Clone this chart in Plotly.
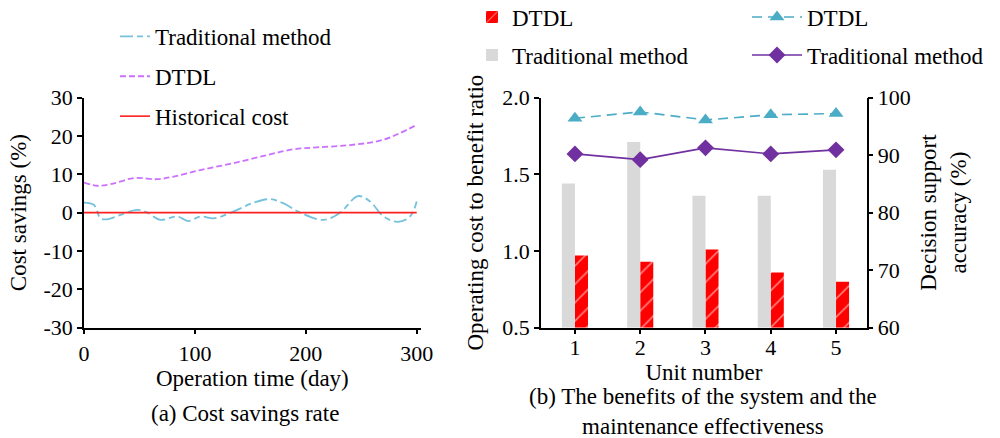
import plotly.graph_objects as go

# ---------- data: (a) cost savings rate ----------
trad_days = [0, 9, 15, 22, 33, 48, 57, 69, 84, 94, 105, 117, 135, 153, 168, 180, 195, 216, 231, 247, 258, 270, 283, 294, 300]
trad_vals = [2.6, 2.0, -1.5, -1.7, -0.6, 0.7, 0.0, -1.9, -1.0, -2.2, -1.0, -1.5, 0.3, 2.6, 3.5, 2.4, 0.0, -1.9, 0.0, 4.3, 2.9, -1.0, -2.4, -1.0, 2.9]
dtdl_days = [0, 12, 24, 45, 66, 81, 105, 135, 165, 189, 210, 240, 270, 300]
dtdl_vals = [7.8, 7.0, 7.4, 9.0, 8.7, 9.4, 11.1, 12.9, 15.0, 16.5, 17.0, 17.6, 19.0, 22.9]
hist_days = [0, 300]
hist_vals = [0, 0]
y_a_ticks = [-30, -20, -10, 0, 10, 20, 30]
y_a_labels = ["-30", "-20", "-10", "0", "10", "20", "30"]
x_a_ticks = [0, 100, 200, 300]

# ---------- data: (b) benefits ----------
units = [1, 2, 3, 4, 5]
ratio_dtdl = [0.97, 0.93, 1.01, 0.86, 0.80]
ratio_trad = [1.44, 1.71, 1.36, 1.36, 1.53]
acc_dtdl = [96.4, 97.5, 96.1, 97.0, 97.2]
acc_trad = [90.2, 89.2, 91.25, 90.2, 90.9]
ratio_ticks = [0.5, 1.0, 1.5, 2.0]
acc_ticks = [60, 70, 80, 90, 100]

FONT = "Liberation Serif"
FS = 23      # titles / legends / captions
TFS = 22     # tick labels

fig = go.Figure()

# (a)
fig.add_trace(go.Scatter(x=trad_days, y=trad_vals, mode="lines", name="Traditional method",
                         line=dict(color="#74C2DC", width=1.8, dash="13px,4px,6px,4px", shape="spline"),
                         xaxis="x", yaxis="y", legend="legend", legendgroup="a1"))
fig.add_trace(go.Scatter(x=dtdl_days, y=dtdl_vals, mode="lines", name="DTDL",
                         line=dict(color="#CC70FF", width=1.8, dash="6px,3px", shape="spline"),
                         xaxis="x", yaxis="y", legend="legend", legendgroup="a2"))
fig.add_trace(go.Scatter(x=hist_days, y=hist_vals, mode="lines", name="Historical cost",
                         line=dict(color="#FF2020", width=1.6),
                         xaxis="x", yaxis="y", legend="legend", legendgroup="a3"))

# (b) bars
fig.add_trace(go.Bar(x=units, y=[v - 0.5 for v in ratio_dtdl], base=0.5, name="DTDL",
                     width=0.2, offset=0.0,
                     marker=dict(color="#FF0000", line=dict(width=0),
                                 pattern=dict(shape="/", fgcolor="#FFFFFF", bgcolor="#FF0000", size=13, solidity=0.12)),
                     xaxis="x2", yaxis="y2", legend="legend2", legendgroup="b1",
                     hovertext=[str(v) for v in ratio_dtdl]))
fig.add_trace(go.Bar(x=units, y=[v - 0.5 for v in ratio_trad], base=0.5, name="Traditional method",
                     width=0.2, offset=-0.2,
                     marker=dict(color="#D9D9D9", line=dict(width=0)),
                     xaxis="x2", yaxis="y2", legend="legend2", legendgroup="b2",
                     hovertext=[str(v) for v in ratio_trad]))
# (b) lines
fig.add_trace(go.Scatter(x=units, y=acc_dtdl, mode="lines+markers", name="DTDL",
                         line=dict(color="#4BACC6", width=1.6, dash="10px,6px"),
                         marker=dict(symbol="triangle-up", size=13, color="#4BACC6"),
                         xaxis="x2", yaxis="y3", legend="legend3", legendgroup="c1"))
fig.add_trace(go.Scatter(x=units, y=acc_trad, mode="lines+markers", name="Traditional method",
                         line=dict(color="#7030A0", width=1.6),
                         marker=dict(symbol="diamond", size=13, color="#7030A0"),
                         xaxis="x2", yaxis="y3", legend="legend3", legendgroup="c2"))

ax_common = dict(showgrid=False, zeroline=False, showline=True, linecolor="black", linewidth=1.5,
                 ticks="outside", ticklen=5, tickcolor="black", tickwidth=1.5, automargin=False,
                 tickfont=dict(family=FONT, size=TFS, color="black"))
ydom = [1 - 327.7 / 438, 1 - 97.5 / 438]

legend_common = dict(font=dict(family=FONT, size=FS, color="black"), bgcolor="rgba(0,0,0,0)",
                     orientation="v", xanchor="left", yanchor="top",
                     itemclick=False, itemdoubleclick=False)

fig.update_layout(
    width=1000, height=438, margin=dict(l=0, r=0, t=0, b=0, autoexpand=False),
    paper_bgcolor="white", plot_bgcolor="white",
    font=dict(family=FONT, size=FS, color="black"),
    barmode="overlay",
    xaxis=dict(domain=[0.084, 0.4207], range=[0, 303.6], tickvals=x_a_ticks, anchor="y",
               title=dict(text="Operation time (day)", font=dict(family=FONT, size=FS), standoff=4), **ax_common),
    yaxis=dict(domain=ydom, range=[-30, 30], tickvals=y_a_ticks, ticktext=y_a_labels, anchor="x",
               title=dict(text="Cost savings (%)", font=dict(family=FONT, size=FS), standoff=10), **ax_common),
    xaxis2=dict(domain=[0.541, 0.8667], range=[0.48, 5.47], tickvals=units, anchor="y2",
                ticklabelstandoff=-6,
                title=dict(text="Unit number", font=dict(family=FONT, size=FS), standoff=0), **ax_common),
    yaxis2=dict(domain=ydom, range=[0.5, 2.0], tickvals=ratio_ticks, tickformat=".1f", anchor="x2",
                title=dict(text="Operating cost to benefit ratio", font=dict(family=FONT, size=FS), standoff=12), **ax_common),
    yaxis3=dict(domain=ydom, range=[60, 100], tickvals=acc_ticks, anchor="x2", overlaying="y2", side="right",
                title=dict(text="Decision support<br>accuracy (%)", font=dict(family=FONT, size=FS), standoff=10), **ax_common),
    legend=dict(x=0.115, y=0.966, tracegroupgap=7, **legend_common),
    legend2=dict(x=0.472, y=1.01, tracegroupgap=5, **legend_common),
    legend3=dict(x=0.747, y=1.01, itemwidth=50, tracegroupgap=5, **legend_common),
    annotations=[
        dict(text="(a) Cost savings rate", x=0.245, y=1 - 413 / 438, xref="paper", yref="paper",
             showarrow=False, font=dict(family=FONT, size=FS), xanchor="center", yanchor="middle"),
        dict(text="(b) The benefits of the system and the<br>maintenance effectiveness", x=0.7025,
             y=1 - 411.5 / 438, xref="paper", yref="paper", showarrow=False,
             font=dict(family=FONT, size=FS), xanchor="center", yanchor="middle"),
    ],
)

fig.write_html("out.html")
